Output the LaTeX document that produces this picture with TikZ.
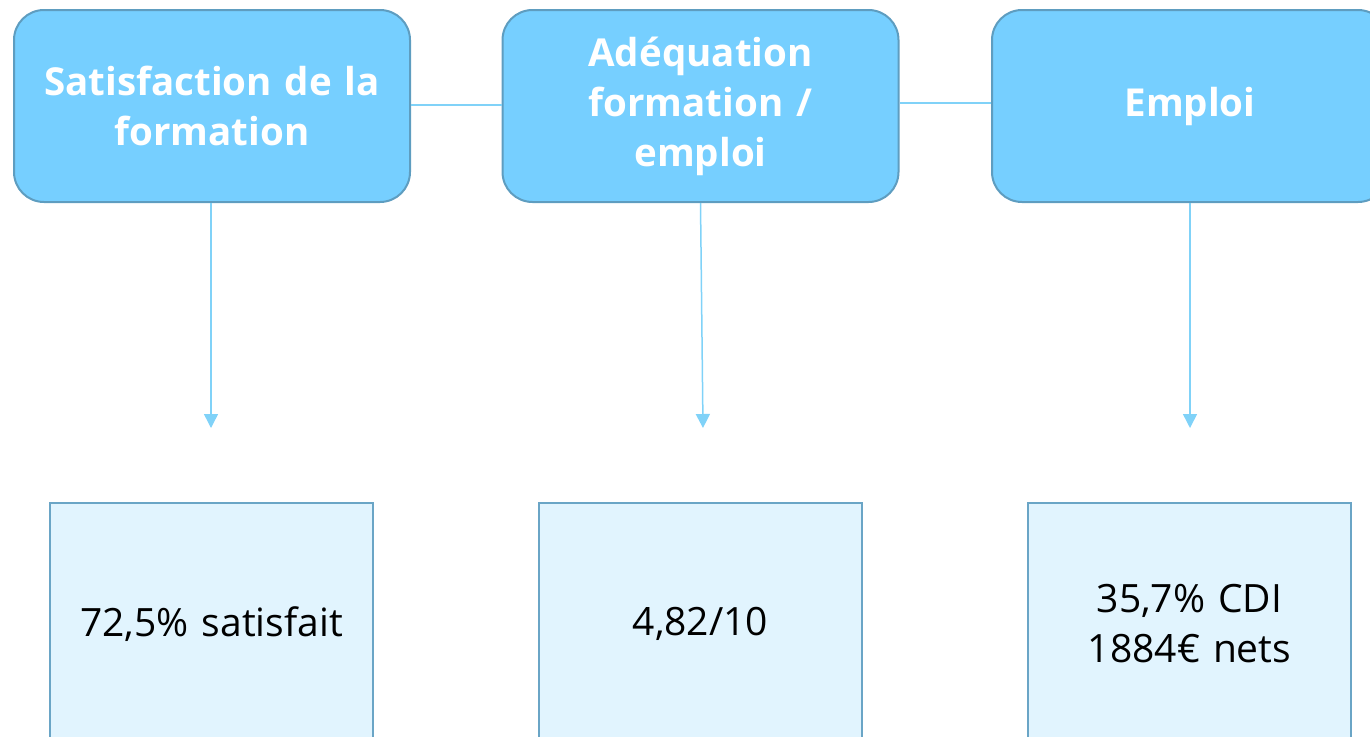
\documentclass[tikz,border=0pt]{standalone}
\usepackage{fontspec}
\setmainfont{Open Sans}
\usetikzlibrary{arrows.meta}
\definecolor{topfill}{HTML}{76CFFF}
\definecolor{topdraw}{HTML}{5E9DC0}
\definecolor{botfill}{HTML}{E1F4FE}
\definecolor{botdraw}{HTML}{6AA5C6}
\definecolor{linkcol}{HTML}{80D2F8}
\begin{document}
\begin{tikzpicture}[x=1pt,y=-1pt,
  topbox/.style={draw=topdraw,line width=2pt,fill=topfill,rounded corners=30pt,
    minimum width=396pt,minimum height=192pt,text=white,align=center,
    font=\fontsize{38.5}{50}\selectfont\bfseries,inner sep=0pt,text width=390pt},
  botbox/.style={draw=botdraw,line width=2pt,fill=botfill,
    minimum width=323pt,minimum height=242pt,align=center,
    font=\fontsize{39}{50}\selectfont,inner sep=0pt,text width=318pt},
  link/.style={draw=linkcol,line width=1.5pt},
  arr/.style={link,-{Triangle[width=14pt,length=14pt]}}]
\useasboundingbox (0,0) rectangle (1370,736);
\clip (0,0) rectangle (1370,736);
\node[topbox] (t1) at (212,106) {Satisfaction de la\\formation};
\node[topbox] (t2) at (700.5,106) {Adéquation\\formation /\\emploi};
\node[topbox] (t3) at (1190,106) {Emploi};
\node[botbox] (b1) at (211.5,624) {72,5\% satisfait};
\node[botbox] (b2) at (700.5,624) {4,82/10};
\node[botbox] (b3) at (1189.5,624) {35,7\% CDI\\1884€ nets};
\coordinate (e1) at (211,428);
\coordinate (e2) at (703,428);
\coordinate (e3) at (1190,428);
\draw[link] (t1.east |- 0,105) -- (t2.west |- 0,105);
\draw[link] (t2.east |- 0,103) -- (t3.west |- 0,103);
\draw[arr] (t1.south -| e1) -- (e1);
\draw[arr] (t2.south) -- (e2);
\draw[arr] (t3.south) -- (e3);
\end{tikzpicture}
\end{document}
